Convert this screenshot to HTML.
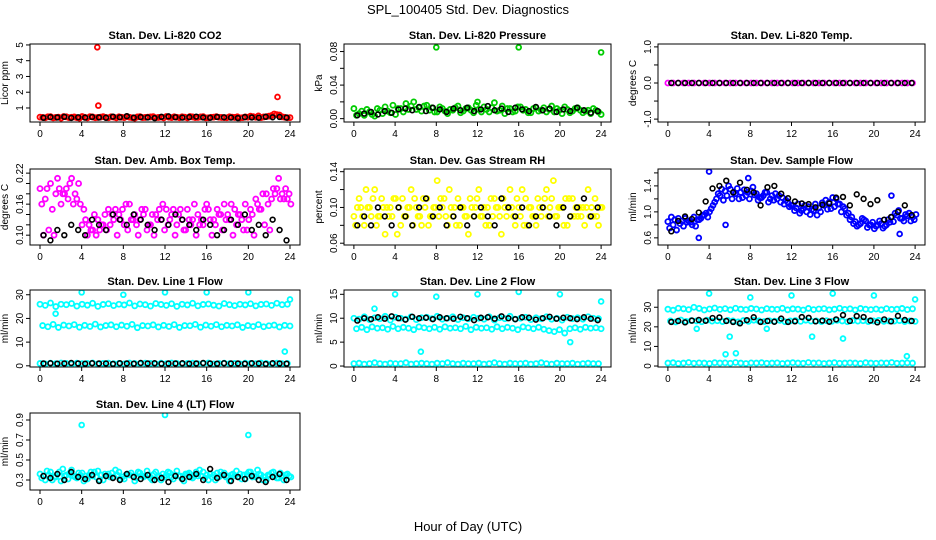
<!DOCTYPE html>
<html><head><meta charset="utf-8"><style>
body{margin:0;background:#fff}
svg{display:block;font-family:"Liberation Sans",sans-serif}
</style></head><body>
<svg id="chart" width="936" height="540" viewBox="0 0 936 540" xmlns="http://www.w3.org/2000/svg">
<rect width="936" height="540" fill="#fff"/>
<text x="468" y="14" font-size="13" text-anchor="middle">SPL_100405  Std. Dev. Diagnostics</text>
<text x="468" y="531" font-size="13" text-anchor="middle">Hour of Day (UTC)</text>
</svg>
<script>
const xTicks=[0,4,8,12,16,20,24];
// Panel 1 CO2
const co2Red1=[0.42,0.38,0.45,0.40,0.36,0.44,0.41,0.39,0.46,0.37,0.43,0.40,0.45,0.38,0.42,0.44,0.39,0.41,0.36,0.45,0.40,0.43,0.38,0.42,0.46,0.39,0.41,0.44,0.37,0.43,0.40,0.45,0.38,0.42,0.41,0.39,0.44,0.40,0.37,0.43,0.48,0.41,0.39,0.45,0.52,0.58,0.44,0.38];
const co2Red2=[0.40,0.44,0.37,0.42,0.46,0.39,0.43,0.36,0.41,0.45,0.38,0.42,0.40,0.44,0.37,0.41,0.46,0.38,0.43,0.39,0.42,0.45,0.40,0.37,0.41,0.44,0.38,0.42,0.46,0.39,0.43,0.37,0.41,0.45,0.40,0.38,0.42,0.44,0.39,0.41,0.45,0.50,0.43,0.48,0.62,0.55,0.41,0.39];
const co2OutHours=[5.5,5.6,22.8];
const co2OutVals=[4.85,1.15,1.7];
const co2Black=[0.38,0.42,0.40,0.44,0.37,0.41,0.39,0.43,0.40,0.38,0.45,0.41,0.48,0.39,0.42,0.40,0.36,0.44,0.47,0.41,0.39,0.42,0.45,0.40,0.38,0.43,0.41,0.39,0.36,0.42,0.40,0.38,0.44,0.41,0.43,0.39];
// Panel 2 pressure
const presGreen1=[0.012,0.006,0.004,0.008,0.003,0.010,0.014,0.007,0.005,0.012,0.018,0.015,0.011,0.009,0.016,0.013,0.008,0.012,0.006,0.010,0.015,0.009,0.013,0.007,0.011,0.014,0.008,0.019,0.010,0.006,0.012,0.009,0.014,0.011,0.007,0.013,0.010,0.008,0.015,0.012,0.006,0.011,0.009,0.013,0.007,0.010,0.012,0.008];
const presGreen2=[0.004,0.009,0.011,0.005,0.012,0.006,0.009,0.016,0.012,0.008,0.011,0.020,0.013,0.015,0.010,0.008,0.014,0.009,0.011,0.013,0.007,0.012,0.010,0.016,0.008,0.011,0.013,0.009,0.015,0.012,0.008,0.014,0.010,0.007,0.012,0.009,0.013,0.011,0.008,0.010,0.014,0.007,0.012,0.010,0.009,0.006,0.010,0.005];
const presOutHours=[8,12,16,24];
const presOutVals=[0.085,0.02,0.085,0.079];
const presBlack=[0.004,0.006,0.008,0.005,0.009,0.007,0.011,0.012,0.010,0.014,0.009,0.013,0.011,0.008,0.012,0.010,0.013,0.009,0.011,0.015,0.010,0.012,0.008,0.013,0.011,0.009,0.014,0.010,0.012,0.008,0.011,0.009,0.013,0.010,0.007,0.009];
// Panel 3 temp
const tempMag=[0,0,0,0,0,0,0,0,0,0,0,0,0,0,0,0,0,0,0,0,0,0,0,0,0,0,0,0,0,0,0,0,0,0,0,0,0,0,0,0,0,0,0,0,0,0,0,0];
const tempBlack=[0,0,0,0,0,0,0,0,0,0,0,0,0,0,0,0,0,0,0,0,0,0,0,0,0,0,0,0,0,0,0,0,0,0,0,0];
// Panel 4 amb box temp
const ambMag1=[0.19,0.17,0.20,0.18,0.16,0.19,0.21,0.17,0.12,0.10,0.11,0.13,0.12,0.15,0.13,0.14,0.12,0.16,0.14,0.13,0.15,0.12,0.14,0.13,0.15,0.14,0.12,0.13,0.15,0.13,0.14,0.12,0.15,0.13,0.14,0.16,0.13,0.15,0.14,0.16,0.15,0.17,0.15,0.18,0.17,0.19,0.18,0.17];
const ambMag2=[0.16,0.19,0.15,0.21,0.18,0.17,0.16,0.20,0.15,0.12,0.14,0.11,0.14,0.12,0.15,0.13,0.16,0.13,0.12,0.15,0.11,0.14,0.13,0.16,0.12,0.15,0.14,0.11,0.13,0.16,0.12,0.15,0.13,0.12,0.14,0.13,0.16,0.12,0.13,0.11,0.14,0.16,0.18,0.16,0.19,0.21,0.17,0.18];
const ambMag3=[0.10,0.11,0.10,0.19,0.18,0.20,0.18,0.16,0.13,0.11,0.10,0.12,0.11,0.14,0.10,0.15,0.11,0.13,0.10,0.14,0.12,0.10,0.15,0.11,0.13,0.10,0.15,0.11,0.12,0.10,0.13,0.16,0.10,0.15,0.11,0.14,0.10,0.14,0.11,0.13,0.10,0.15,0.12,0.11,0.18,0.17,0.19,0.16];
const ambBlack=[0.10,0.09,0.11,0.10,0.12,0.11,0.10,0.13,0.12,0.11,0.14,0.13,0.12,0.14,0.13,0.12,0.11,0.13,0.12,0.14,0.13,0.12,0.11,0.13,0.12,0.10,0.11,0.13,0.12,0.14,0.11,0.12,0.10,0.13,0.11,0.09];
// Panel 5 RH
const rhYel1=[0.09,0.11,0.08,0.10,0.12,0.09,0.07,0.10,0.11,0.08,0.09,0.12,0.10,0.08,0.11,0.09,0.13,0.10,0.08,0.09,0.11,0.10,0.07,0.09,0.12,0.10,0.08,0.11,0.09,0.10,0.12,0.08,0.09,0.11,0.10,0.08,0.09,0.12,0.11,0.09,0.10,0.08,0.11,0.09,0.10,0.12,0.09,0.08];
const rhYel2=[0.08,0.10,0.12,0.09,0.08,0.11,0.10,0.09,0.07,0.11,0.10,0.08,0.09,0.11,0.08,0.10,0.09,0.11,0.12,0.10,0.08,0.09,0.11,0.10,0.09,0.08,0.11,0.10,0.07,0.09,0.10,0.11,0.12,0.08,0.09,0.11,0.10,0.09,0.13,0.10,0.08,0.11,0.09,0.10,0.08,0.09,0.11,0.10];
const rhYel3=[0.10,0.09,0.10,0.11,0.09,0.10,0.09,0.11,0.10,0.09,0.10,0.11,0.09,0.10,0.09,0.10,0.11,0.09,0.10,0.08,0.10,0.09,0.10,0.11,0.09,0.10,0.09,0.10,0.11,0.10,0.09,0.10,0.08,0.10,0.09,0.10,0.11,0.10,0.09,0.10,0.11,0.09,0.10,0.09,0.10,0.10,0.09,0.10];
const rhBlack=[0.08,0.09,0.08,0.10,0.09,0.08,0.10,0.09,0.08,0.10,0.11,0.09,0.10,0.08,0.09,0.10,0.08,0.09,0.10,0.09,0.08,0.11,0.10,0.09,0.10,0.08,0.09,0.10,0.09,0.08,0.10,0.09,0.10,0.11,0.09,0.10];
// Panel 6 sample flow
const sfBlue1=[0.85,0.80,0.90,0.78,0.86,0.92,0.88,0.95,1.00,1.15,1.25,1.32,1.35,1.28,1.30,1.25,1.32,1.28,1.22,1.30,1.25,1.20,1.22,1.15,1.10,1.12,1.05,1.08,1.02,1.06,1.10,1.15,1.08,1.12,1.05,0.88,0.85,0.82,0.86,0.80,0.78,0.82,0.80,0.92,0.95,0.90,0.94,0.92];
const sfBlue2=[0.75,0.88,0.82,0.90,0.84,0.78,0.90,0.98,1.05,1.20,1.35,1.25,1.20,1.36,1.22,1.30,1.38,1.18,1.25,1.15,1.18,1.25,1.12,1.08,1.02,0.98,1.10,0.96,1.12,1.00,1.18,1.05,1.20,1.00,0.95,0.92,0.78,0.90,0.76,0.84,0.80,0.75,0.88,0.85,1.02,0.86,0.98,0.88];
const sfBlue3=[0.92,0.72,0.86,0.84,0.80,0.88,0.95,0.92,1.10,1.28,1.18,1.40,1.30,1.20,1.34,1.20,1.26,1.22,1.30,1.20,1.28,1.15,1.18,1.10,1.06,1.02,1.00,1.04,0.95,1.14,1.04,1.22,1.12,1.08,0.98,0.82,0.80,0.88,0.80,0.74,0.86,0.78,0.84,0.98,0.90,0.96,0.86,0.96];
const sfOutHours=[3,4,5.6,7.8,22.5,21.7];
const sfOutVals=[0.6,1.62,0.8,1.52,0.66,1.25];
const sfBlack=[0.70,0.86,0.93,0.89,0.99,1.16,1.36,1.40,1.48,1.30,1.45,1.34,1.30,1.10,1.38,1.40,1.28,1.21,1.16,1.13,1.12,1.07,1.11,1.13,1.22,1.23,1.10,1.27,1.20,1.12,1.18,0.88,0.92,1.00,1.10,0.95];
// Panel 7 line 1
const l1Cy1=[26,25.5,26.5,25,26,25.8,26.3,25.2,26,25.6,26.4,25.1,25.9,26.2,25.4,26,25.7,26.5,25.3,26.1,25.8,25.2,26.3,25.9,25.5,26.2,25.1,26,25.7,26.4,25.3,25.9,26.1,25.6,25.2,26.3,25.8,25.4,26,25.7,26.2,25.3,25.9,26.1,25.5,26.4,25.8,26];
const l1Cy2=[17,16.5,17.5,16.2,17.2,16.8,17.4,16.3,17.1,16.6,17.6,16.4,17,17.3,16.5,17.2,16.7,17.5,16.1,17,16.8,17.3,16.4,17.1,16.6,17.4,16.2,17,16.9,17.5,16.3,17.2,16.7,17.4,16.5,17.1,16.8,17.3,16.2,17,16.6,17.4,16.5,16.9,17.2,16.4,17.1,16.8];
const l1Cy3=[1,0.8,1.1,0.9,1.2,1,0.8,1.1,0.9,1,1.2,0.8,1,1.1,0.9,1,0.8,1.2,1,0.9,1.1,1,0.8,1.1,0.9,1.2,1,0.8,1,1.1,0.9,1,1.2,0.8,1,1.1,0.9,1,0.8,1.1,1,0.9,1.2,1,0.8,1.1,0.9,1];
const l1OutHours=[1.5,4,8,12,16,20,23.5,24];
const l1OutVals=[22,31,30,31,31,31,6,28];
const l1Black=[1,1.1,0.9,1,1.2,1,0.9,1.1,1,1,0.8,1.1,1,0.9,1.2,1,1.1,0.9,1,1,1.1,0.9,1,1.2,1,0.9,1.1,1,1,0.9,1.1,1,0.8,1.1,1,0.9];
// Panel 8 line 2
const l2Cy1=[10,9.8,10.3,9.7,10.1,9.9,10.4,9.6,10.2,10,9.8,10.3,9.7,10.1,10.2,9.9,10.4,9.8,10,10.3,9.7,10.1,9.9,10.2,10,9.8,10.3,9.6,10.1,9.9,10.4,9.8,10,10.2,9.7,10.1,9.9,10.3,9.8,10,9.6,10.2,9.9,10.1,9.8,10.3,10,9.9];
const l2Cy2=[7.8,8.1,7.6,8.2,7.9,8,7.7,8.3,7.8,8.1,7.9,7.6,8.2,8,7.8,8.1,7.7,8.2,7.9,8,7.8,8.3,7.6,8.1,7.9,8,7.7,8.2,7.8,8.1,7.9,7.6,8.2,8,7.8,8.1,7.7,7.4,7.2,7.6,6.9,7.8,8,7.7,8.1,7.9,8,7.8];
const l2Cy3=[0.5,0.6,0.4,0.5,0.7,0.5,0.4,0.6,0.5,0.5,0.7,0.4,0.5,0.6,0.5,0.4,0.6,0.5,0.7,0.5,0.4,0.6,0.5,0.5,0.6,0.4,0.5,0.7,0.5,0.4,0.6,0.5,0.5,0.6,0.4,0.5,0.7,0.5,0.4,0.6,0.5,0.5,0.6,0.4,0.5,0.6,0.5,0.5];
const l2OutHours=[2,4,8,12,16,20,24,6.5,21];
const l2OutVals=[12,15,14.5,15,15.5,15,13.5,3,5];
const l2Black=[9.5,10,9.8,10.2,9.9,10.4,10,9.7,10.3,10,10.1,9.8,10.2,10,9.9,10.3,10,9.6,10.1,10.2,9.9,10.4,10,9.8,10.2,10.1,9.7,10,10.3,9.9,10.1,10,9.8,10.2,9.9,9.6];
// Panel 9 line 3
const l3Cy1=[29,28.5,29.5,29.2,28.8,30,29.4,28.6,29.1,29.6,28.9,29.3,28.7,29.5,29,28.8,29.4,29.1,28.6,29.3,29,28.9,29.5,28.7,29.2,29,28.6,29.4,28.8,29.1,29.3,28.7,29,29.5,28.9,29.2,28.6,29.4,29,28.8,29.1,28.7,29.3,28.9,29,29.4,28.8,29.2];
const l3Cy2=[23,22.5,23.5,22.8,23.2,23,22.6,23.4,22.9,23.1,22.7,23.3,23,22.5,23.2,22.8,23.4,23,22.7,23.1,22.9,23.3,22.6,23,23.2,22.8,23.4,22.9,23,22.7,23.1,22.8,23.3,23,22.6,23.2,22.9,23.1,22.7,23,23.3,22.8,23,22.9,23.2,22.7,23,22.8];
const l3Cy3=[1.5,1.7,1.3,1.5,1.8,1.4,1.6,1.5,1.3,1.7,1.5,1.6,1.4,1.8,1.5,1.3,1.6,1.5,1.7,1.4,1.5,1.6,1.3,1.5,1.7,1.5,1.4,1.8,1.5,1.6,1.3,1.5,1.7,1.4,1.5,1.6,1.5,1.3,1.7,1.5,1.4,1.6,1.5,1.8,1.4,1.5,1.6,1.5];
const l3OutHours=[4,8,12,16,20,24,5.6,6.6,2.8,6,9.6,14,17,23.2];
const l3OutVals=[37,35,36,37,36,34,6,6.5,19,15,19,15,14,5];
const l3Black=[22.5,23,22.3,23.2,23.5,23.1,24.5,24.8,23,22.5,21.8,23.4,24.9,22.5,23,22.6,24.2,22.5,22.8,25,24.6,22.8,23.2,22.6,23.8,26,23,25.5,25,23.2,22.3,23.8,22.8,25.6,23.5,23];
// Panel 10 line 4
const l4Cy1=[0.36,0.30,0.38,0.33,0.29,0.35,0.40,0.32,0.37,0.31,0.34,0.39,0.30,0.36,0.33,0.38,0.31,0.35,0.29,0.37,0.34,0.32,0.38,0.30,0.35,0.33,0.39,0.31,0.36,0.32,0.34,0.38,0.30,0.35,0.33,0.37,0.29,0.34,0.36,0.31,0.38,0.33,0.35,0.30,0.37,0.32,0.34,0.36];
const l4Cy2=[0.32,0.39,0.30,0.36,0.41,0.31,0.34,0.37,0.29,0.35,0.38,0.30,0.36,0.33,0.40,0.31,0.35,0.37,0.32,0.34,0.39,0.30,0.33,0.36,0.38,0.31,0.34,0.29,0.37,0.35,0.40,0.32,0.36,0.30,0.38,0.33,0.35,0.39,0.31,0.36,0.33,0.40,0.30,0.35,0.38,0.32,0.30,0.34];
const l4Cy3=[0.34,0.35,0.33,0.38,0.34,0.37,0.33,0.35,0.34,0.38,0.33,0.35,0.34,0.37,0.35,0.33,0.36,0.34,0.38,0.33,0.35,0.36,0.34,0.33,0.37,0.35,0.34,0.36,0.33,0.38,0.34,0.35,0.33,0.37,0.35,0.34,0.36,0.33,0.35,0.38,0.34,0.36,0.33,0.35,0.34,0.37,0.35,0.33];
const l4OutHours=[4,12,20];
const l4OutVals=[0.85,0.95,0.75];
const l4Black=[0.34,0.32,0.36,0.30,0.38,0.33,0.31,0.35,0.29,0.34,0.32,0.30,0.36,0.33,0.31,0.35,0.30,0.32,0.28,0.34,0.31,0.33,0.36,0.30,0.41,0.32,0.35,0.29,0.33,0.31,0.34,0.30,0.28,0.33,0.36,0.30];

const cols=[[30,300],[344,611],[658,925]];
const rows=[[44,122],[169,245],[290,367],[413,490]];
const RED='#ff0000',GRN='#00cc00',MAG='#ff00ff',YEL='#ffff00',BLU='#0000ff',CY='#00ffff';
const panels=[
 {name:'co2',title:'Stan. Dev. Li-820 CO2',ylab:'Licor ppm',c:0,r:0,dom:[0.11,5.06],ticks:[1,2,3,4,5],labels:['1','2','3','4','5'],layers:[co2Red1,co2Red2],color:RED,oh:co2OutHours,ov:co2OutVals,black:co2Black},
 {name:'pressure',title:'Stan. Dev. Li-820 Pressure',ylab:'kPa',c:1,r:0,dom:[-0.004,0.089],ticks:[0,0.02,0.04,0.06,0.08],labels:['0.00','','0.04','','0.08'],layers:[presGreen1,presGreen2],color:GRN,oh:presOutHours,ov:presOutVals,black:presBlack},
 {name:'temp',title:'Stan. Dev. Li-820 Temp.',ylab:'degrees C',c:2,r:0,dom:[-1.08,1.08],ticks:[-1,-0.5,0,0.5,1],labels:['-1.0','','0.0','','1.0'],layers:[tempMag],color:MAG,oh:[],ov:[],black:tempBlack},
 {name:'amb-box-temp',title:'Stan. Dev. Amb. Box Temp.',ylab:'degrees C',c:0,r:1,dom:[0.081,0.228],ticks:[0.10,0.12,0.14,0.16,0.18,0.20,0.22],labels:['0.10','','','0.16','','','0.22'],layers:[ambMag1,ambMag2,ambMag3],color:MAG,oh:[],ov:[],black:ambBlack},
 {name:'gas-rh',title:'Stan. Dev. Gas Stream RH',ylab:'percent',c:1,r:1,dom:[0.058,0.143],ticks:[0.06,0.08,0.10,0.12,0.14],labels:['0.06','','0.10','','0.14'],layers:[rhYel1,rhYel2,rhYel3],color:YEL,oh:[],ov:[],black:rhBlack},
 {name:'sample-flow',title:'Stan. Dev. Sample Flow',ylab:'ml/min',c:2,r:1,dom:[0.49,1.66],ticks:[0.6,0.8,1.0,1.2,1.4,1.6],labels:['0.6','','1.0','','1.4',''],layers:[sfBlue1,sfBlue2,sfBlue3],color:BLU,oh:sfOutHours,ov:sfOutVals,black:sfBlack},
 {name:'line1-flow',title:'Stan. Dev. Line 1 Flow',ylab:'ml/min',c:0,r:2,dom:[-0.5,32],ticks:[0,10,20,30],labels:['0','10','20','30'],layers:[l1Cy1,l1Cy2,l1Cy3],color:CY,oh:l1OutHours,ov:l1OutVals,black:l1Black},
 {name:'line2-flow',title:'Stan. Dev. Line 2 Flow',ylab:'ml/min',c:1,r:2,dom:[-0.2,15.9],ticks:[0,5,10,15],labels:['0','5','10','15'],layers:[l2Cy1,l2Cy2,l2Cy3],color:CY,oh:l2OutHours,ov:l2OutVals,black:l2Black},
 {name:'line3-flow',title:'Stan. Dev. Line 3 Flow',ylab:'ml/min',c:2,r:2,dom:[-0.5,38.8],ticks:[0,10,20,30],labels:['0','10','20','30'],layers:[l3Cy1,l3Cy2,l3Cy3],color:CY,oh:l3OutHours,ov:l3OutVals,black:l3Black},
 {name:'line4-flow',title:'Stan. Dev. Line 4 (LT) Flow',ylab:'ml/min',c:0,r:3,dom:[0.2,0.97],ticks:[0.3,0.5,0.7,0.9],labels:['0.3','0.5','0.7','0.9'],layers:[l4Cy1,l4Cy2,l4Cy3],color:CY,oh:l4OutHours,ov:l4OutVals,black:l4Black}
];
const NS='http://www.w3.org/2000/svg';
const svg=document.getElementById('chart');
function mk(tag,attrs,parent){const e=document.createElementNS(NS,tag);for(const k in attrs)e.setAttribute(k,attrs[k]);parent.appendChild(e);return e;}
panels.forEach(p=>{
 const [x0,x1]=cols[p.c],[y0,y1]=rows[p.r];
 const g=mk('g',{},svg);
 
 
 const pad=(x1-x0)/1.08*0.04;
 const xs=h=>x0+pad+(h/24)*((x1-x0)-2*pad);
 const ys=v=>y1-(v-p.dom[0])/(p.dom[1]-p.dom[0])*(y1-y0);
 const t=mk('text',{x:(x0+x1)/2,y:y0-5,'font-size':11,'font-weight':'bold','text-anchor':'middle'},g);
 t.textContent=p.title;
 
 
 const yl=mk('text',{transform:`translate(${x0-22},${(y0+y1)/2}) rotate(-90)`,'font-size':10,'text-anchor':'middle'},g);
 yl.textContent=p.ylab;
 
 
 const clip='clip-'+p.name;
 const cp=mk('clipPath',{id:clip},g);mk('rect',{x:x0,y:y0,width:x1-x0,height:y1-y0},cp);
 const pg=mk('g',{'clip-path':`url(#${clip})`,fill:'none','stroke-width':1.8},g);
 const L=p.layers.length;
 p.layers.forEach((arr,k)=>{
  const off=p.name.startsWith('line')&&!p.name.startsWith('line4')?0.5*(k%2):k/L;
  arr.forEach((v,i)=>{
   const h=(i+off)*24/(arr.length-0.5);
   const c=mk('circle',{cx:xs(h),cy:ys(v),r:2.5,stroke:p.color},pg);
   
   
  });
 });
 p.oh.forEach((h,i)=>{
  const c=mk('circle',{cx:xs(h),cy:ys(p.ov[i]),r:2.4,stroke:p.color},pg);
  
  
 });
 p.black.forEach((v,i)=>{
  const h=(i+0.5)*24/p.black.length;
  const c=mk('circle',{cx:xs(h),cy:ys(v),r:2.4,stroke:'#000','stroke-width':1.6},pg);
  
  
 });
 const box=mk('rect',{x:x0,y:y0,width:x1-x0,height:y1-y0,fill:'none',stroke:'#000','stroke-width':1},g);
 
 
 mk('line',{x1:xs(0),x2:xs(24),y1:y1,y2:y1,stroke:'#000'},g);
 xTicks.forEach(v=>{
  mk('line',{x1:xs(v),x2:xs(v),y1:y1,y2:y1+4,stroke:'#000'},g);
  const tl=mk('text',{x:xs(v),y:y1+15,'font-size':10,'text-anchor':'middle'},g);
  tl.textContent=v;
  
  
 });
 p.ticks.forEach((v,i)=>{
  mk('line',{x1:x0,x2:x0-4,y1:ys(v),y2:ys(v),stroke:'#000'},g);
  if(p.labels[i]){
   const tl=mk('text',{transform:`translate(${x0-7},${ys(v)}) rotate(-90)`,'font-size':10,'text-anchor':'middle'},g);
   tl.textContent=p.labels[i];
   
   
  }
 });
});
</script>
</body></html>
